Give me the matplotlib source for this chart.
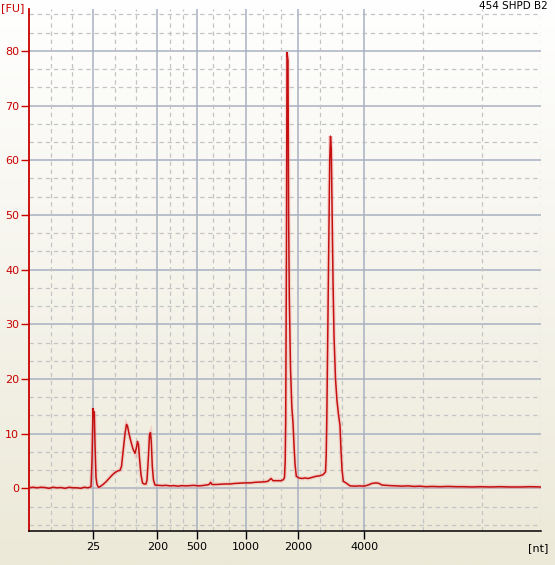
import numpy as np
import matplotlib
matplotlib.use("Agg")
import matplotlib.pyplot as plt

# migration position (plot units) and fluorescence [FU]
pos = [29, 33, 37, 41, 45, 49, 53, 57, 61, 65, 69, 73, 77, 81, 84, 88, 91,
       92, 93, 93.7, 94.3, 95, 96, 97, 98.5, 100, 103, 106, 109, 112, 115, 118, 120,
       121.5, 123, 125, 126.5, 127.5, 129, 131, 133, 135, 136.5, 137.5, 138.5, 139.5,
       141, 142.5, 144, 146, 147, 148.5, 149.5, 150.5, 151.3, 152.3, 153.5, 155,
       158, 162, 166, 170, 174, 178, 182, 186, 190, 194, 198, 202, 206, 209, 210.7,
       212, 216, 220, 225, 230, 235, 240, 245, 250, 255, 260, 265, 268, 271, 273,
       277, 281, 283.5, 284.5, 285.2, 285.7, 286.5, 287, 288, 288.6, 289.3, 290.5,
       291.8, 293, 294, 295, 296.3, 299, 302, 305, 308, 312, 316, 320, 323, 325.5,
       326.2, 326.8, 327.8, 328.8, 329.7, 330.5, 331.3, 332, 333, 334, 335.5, 337,
       338.5, 340, 341, 342, 343.3, 346.7, 350, 355, 360, 364, 368, 372, 376, 379,
       382, 386, 390, 396, 402, 408, 414, 420, 426, 432, 440, 448, 456, 464, 472,
       480, 490, 500, 510, 520, 530, 541]
fu = [0.1, 0.2, 0.1, 0.2, 0.15, 0.0, 0.2, 0.1, 0.15, 0.0, 0.2, 0.1, 0.1, 0.0, 0.2, 0.1, 0.3,
      5.0, 14.6, 13.0, 14.0, 8.0, 2.0, 0.7, 0.2, 0.3, 0.7, 1.2, 1.8, 2.4, 2.9, 3.2, 3.3,
      4.0, 6.5, 10.0, 11.7, 11.4, 10.0, 8.5, 7.2, 6.4, 7.5, 8.6, 8.0, 5.5,
      2.5, 1.0, 0.8, 0.8, 1.5, 6.0, 9.8, 10.2, 8.5, 4.0, 1.5, 0.6,
      0.55, 0.5, 0.55, 0.45, 0.5, 0.4, 0.5, 0.45, 0.5, 0.55, 0.45, 0.5, 0.6, 0.7, 1.1,
      0.7, 0.7, 0.75, 0.8, 0.8, 0.9, 0.95, 1.0, 1.0, 1.1, 1.15, 1.2, 1.3, 1.8, 1.4,
      1.4, 1.4, 1.6, 2.0, 5.0, 12.5, 45.0, 79.7, 78.3, 50.0, 35.0, 22.0,
      15.0, 12.0, 8.0, 4.5, 2.2, 1.9, 1.8, 1.9, 1.8, 2.0, 2.2, 2.3, 2.5, 3.0,
      6.0, 12.5, 28.0, 45.0, 60.0, 64.4, 62.0, 52.0, 38.0, 28.0, 20.0, 16.0,
      13.5, 11.5, 7.0, 3.5, 1.3, 0.9, 0.45, 0.4, 0.45, 0.4, 0.6, 0.9, 1.0, 0.9,
      0.6, 0.55, 0.5, 0.45, 0.4, 0.45, 0.35, 0.4, 0.3, 0.35, 0.3, 0.35, 0.3, 0.3, 0.25,
      0.3, 0.25, 0.3, 0.25, 0.25, 0.3, 0.25]

tick_pos = [93.3, 157.3, 196.5, 245.5, 298.3, 364.3]
tick_lbl = ["25", "200", "500", "1000", "2000", "4000"]
minor_x = [50.6, 71.9, 114.6, 136.0, 170.4, 183.4, 212.8, 229.2, 263.1, 280.7,
           320.3, 342.3, 423.3, 482.3, 541]

fig = plt.figure(figsize=(5.55, 5.65), dpi=100)

# vertical white -> beige background
bg = fig.add_axes([0, 0, 1, 1], zorder=-5)
grad = np.linspace(0, 1, 256)[:, None]
top = np.array([1.0, 1.0, 1.0])
bot = np.array([0xEC, 0xE9, 0xD8]) / 255
img = top[None, None, :] * (1 - grad[..., None]) + bot[None, None, :] * grad[..., None]
bg.imshow(img, aspect="auto", extent=[0, 1, 0, 1])
bg.axis("off")

W, H = 555, 565
ax = fig.add_axes([29 / W, (H - 531) / H, (541 - 29) / W, (531 - 9.3) / H])
ax.set_facecolor("none")

red = "#C80000"
ax.set_xlim(29, 541)
ax.set_ylim(-7.8, 87.6)

for y in np.arange(-20 / 3, 87, 10 / 3):
    if abs(round(y / 10) * 10 - y) > 0.1:
        ax.axhline(y, color="#C4C4C4", lw=0.9, ls=(0, (3.5, 3)), zorder=1)
for y in range(0, 81, 10):
    ax.axhline(y, color="#A9B1C1", lw=1.1, zorder=1)
for x in minor_x:
    ax.axvline(x, color="#C4C4C4", lw=0.9, ls=(0, (3.5, 3)), zorder=1)
for x in tick_pos:
    ax.axvline(x, color="#A9B1C1", lw=1.1, zorder=1)

ax.plot(pos, fu, color="#F4A0A0", lw=3.0, alpha=0.35, zorder=2, solid_joinstyle="miter")
ax.plot(pos, fu, color="#C41010", lw=1.1, zorder=3)

ax.set_xticks(tick_pos)
ax.set_xticklabels(tick_lbl, fontsize=8)
ax.set_yticks(range(0, 81, 10))
ax.set_yticklabels([str(v) for v in range(0, 81, 10)], fontsize=8, color=red)
ax.tick_params(axis="y", colors=red, length=6, width=1, pad=1, labelcolor=red)
ax.tick_params(axis="x", length=6, width=1, pad=2)

for s in ["top", "right"]:
    ax.spines[s].set_visible(False)
ax.spines["left"].set_color(red)
ax.spines["left"].set_linewidth(1.3)
ax.spines["bottom"].set_color("black")
ax.spines["bottom"].set_linewidth(1.1)

fig.text(1 / W, 1 - 8 / H, "[FU]", color=red, fontsize=8, va="center", ha="left")
fig.text(548 / W, 1 - 548 / H, "[nt]", color="black", fontsize=8, va="center", ha="right")
fig.text(548 / W, 1 - 6 / H, "454 SHPD B2", color="black", fontsize=7.5, va="center", ha="right")

fig.savefig("out.png", dpi=100)
